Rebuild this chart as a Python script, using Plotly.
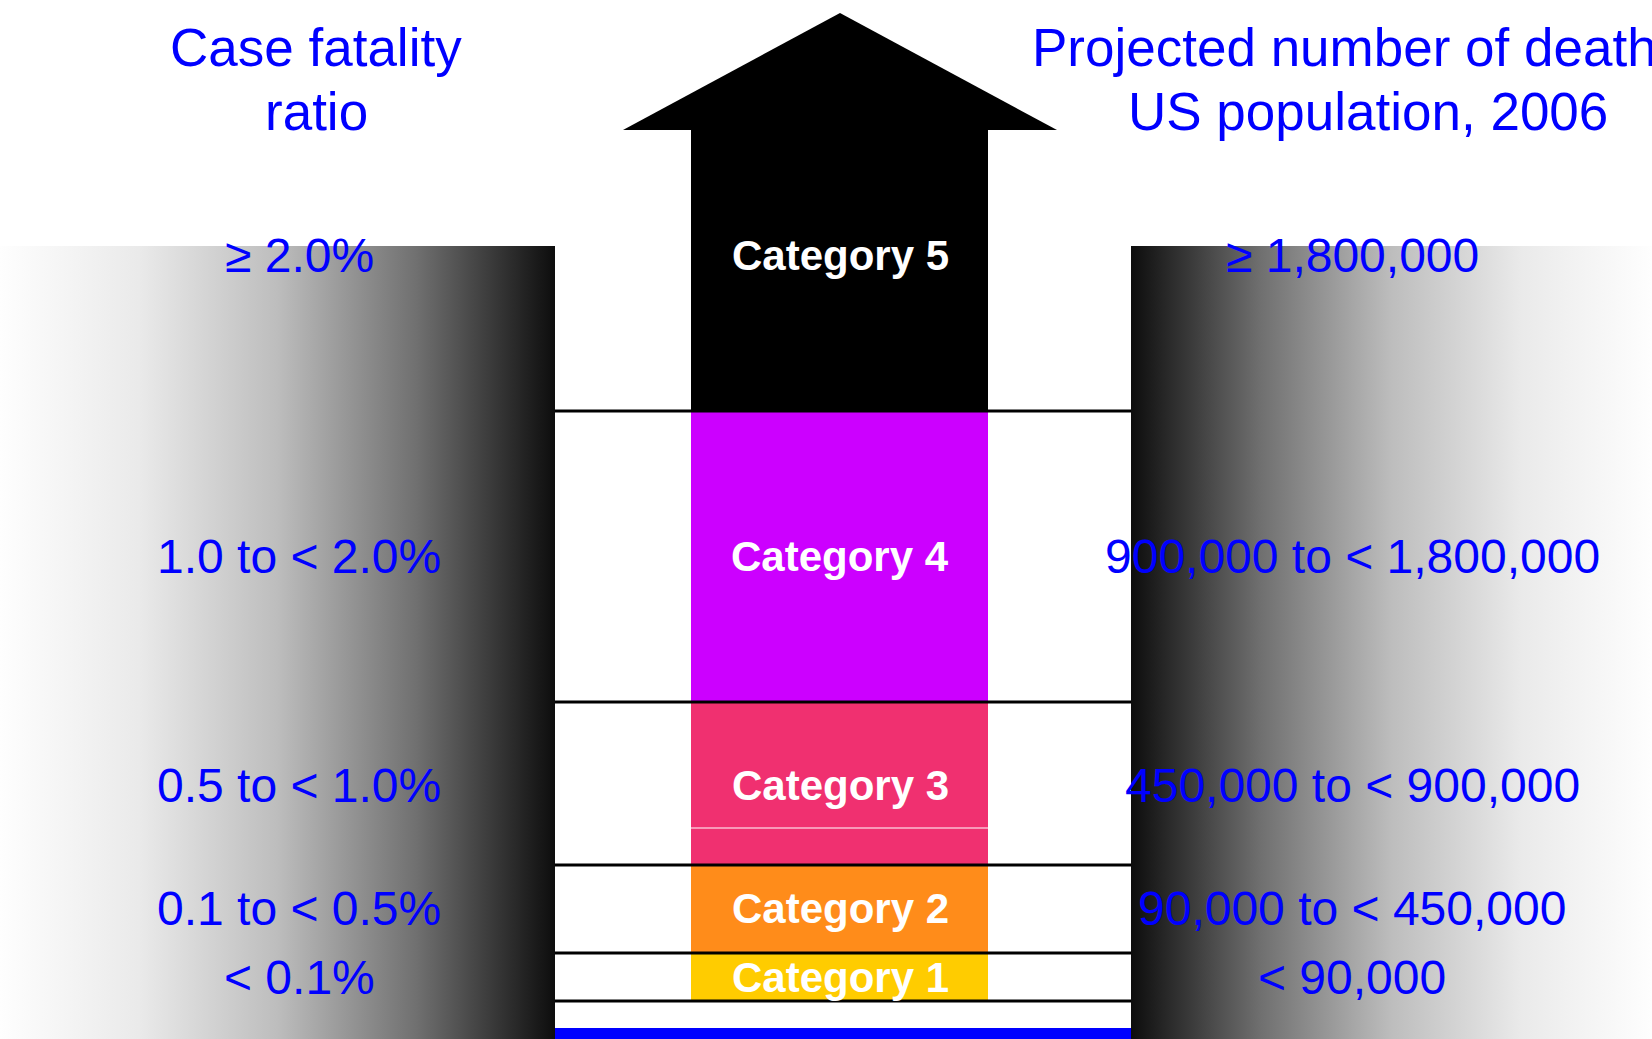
import plotly.graph_objects as go

# ---- data ----
categories = ["Category 1", "Category 2", "Category 3", "Category 4", "Category 5"]
cfr_labels = ["< 0.1%", "0.1 to < 0.5%", "0.5 to < 1.0%", "1.0 to < 2.0%", "\u2265 2.0%"]
death_labels = ["< 90,000", "90,000 to < 450,000", "450,000 to < 900,000",
                "900,000 to < 1,800,000", "\u2265 1,800,000"]
# band edges on the diagram's vertical scale (bottom of Cat 1 ... top of Cat 5 shaft)
band_edges = [1001, 953, 865, 702, 411, 130]
label_rows = [977, 908, 785, 556, 255]
cat_colors = ["#FFCC00", "#FF8C1A", "#F03070", "#CC00FF", "#000000"]

left_title = ["Case fatality", "ratio"]
right_title = ["Projected number of deaths in", "US population, 2006"]

W, H = 1652, 1039
BLUE = "#0000FF"
FONT = "Liberation Sans, Arial, sans-serif"

fig = go.Figure()

grad = [[0, "#fefefe"], [0.25, "#eaeaea"], [0.5, "#bdbdbd"], [0.75, "#707070"], [1, "#0d0d0d"]]
grad_r = [[1 - s, c] for s, c in reversed(grad)]

# gradient side panels
fig.add_trace(go.Scatter(x=[0, 555, 555, 0, 0], y=[246, 246, H, H, 246], mode="lines",
                         fill="toself", line=dict(width=0),
                         fillgradient=dict(type="horizontal", colorscale=grad),
                         hoverinfo="skip", showlegend=False))
fig.add_trace(go.Scatter(x=[1131, W, W, 1131, 1131], y=[246, 246, H, H, 246], mode="lines",
                         fill="toself", line=dict(width=0),
                         fillgradient=dict(type="horizontal", colorscale=grad_r),
                         hoverinfo="skip", showlegend=False))

# category bars
bases = band_edges[:-1]
heights = [band_edges[i + 1] - band_edges[i] for i in range(len(categories))]
fig.add_trace(go.Bar(x=[839.5] * len(categories), base=bases, y=heights, width=297,
                     marker=dict(color=cat_colors, line=dict(width=0)),
                     hoverinfo="skip", showlegend=False))

# arrow head
fig.add_trace(go.Scatter(x=[623, 840, 1057, 623], y=[130, 13, 130, 130], mode="lines",
                         fill="toself", fillcolor="black", line=dict(width=0, color="black"),
                         hoverinfo="skip", showlegend=False))

shapes = []
# black separator lines
for e in band_edges[:-1]:
    shapes.append(dict(type="line", x0=555, x1=1131, y0=e, y1=e,
                       line=dict(color="black", width=3)))
# thin white line inside Category 3
shapes.append(dict(type="line", x0=691, x1=988, y0=828, y1=828,
                   line=dict(color="white", width=1.2)))
# blue bar at bottom
shapes.append(dict(type="rect", x0=555, x1=1131, y0=1028, y1=H + 5,
                   fillcolor=BLUE, line=dict(width=0)))

ann = []
for i, c in enumerate(categories):
    ann.append(dict(x=840, y=label_rows[i], text="<b>%s</b>" % c, showarrow=False,
                    xanchor="center", yanchor="middle",
                    font=dict(family=FONT, size=42, color="white")))
    ann.append(dict(x=299, y=label_rows[i], text=cfr_labels[i], showarrow=False,
                    xanchor="center", yanchor="middle",
                    font=dict(family=FONT, size=48, color=BLUE)))
    ann.append(dict(x=1352, y=label_rows[i], text=death_labels[i], showarrow=False,
                    xanchor="center", yanchor="middle",
                    font=dict(family=FONT, size=48, color=BLUE)))

ann.append(dict(x=316, y=47, text=left_title[0], showarrow=False, xanchor="center",
                yanchor="middle", font=dict(family=FONT, size=53, color=BLUE)))
ann.append(dict(x=316, y=111, text=left_title[1], showarrow=False, xanchor="center",
                yanchor="middle", font=dict(family=FONT, size=53, color=BLUE)))
ann.append(dict(x=1030, y=47, text=right_title[0], showarrow=False, xanchor="left",
                yanchor="middle", font=dict(family=FONT, size=53, color=BLUE)))
ann.append(dict(x=1368, y=111, text=right_title[1], showarrow=False, xanchor="center",
                yanchor="middle", font=dict(family=FONT, size=53, color=BLUE)))

fig.update_layout(
    width=W, height=H, autosize=False,
    margin=dict(l=0, r=0, t=0, b=0, pad=0),
    paper_bgcolor="white", plot_bgcolor="white",
    xaxis=dict(range=[0, W], visible=False, fixedrange=True),
    yaxis=dict(range=[H, 0], visible=False, fixedrange=True),
    shapes=shapes, annotations=ann, showlegend=False,
    bargap=0,
)

fig.write_html("out.html", config=dict(displayModeBar=False))
